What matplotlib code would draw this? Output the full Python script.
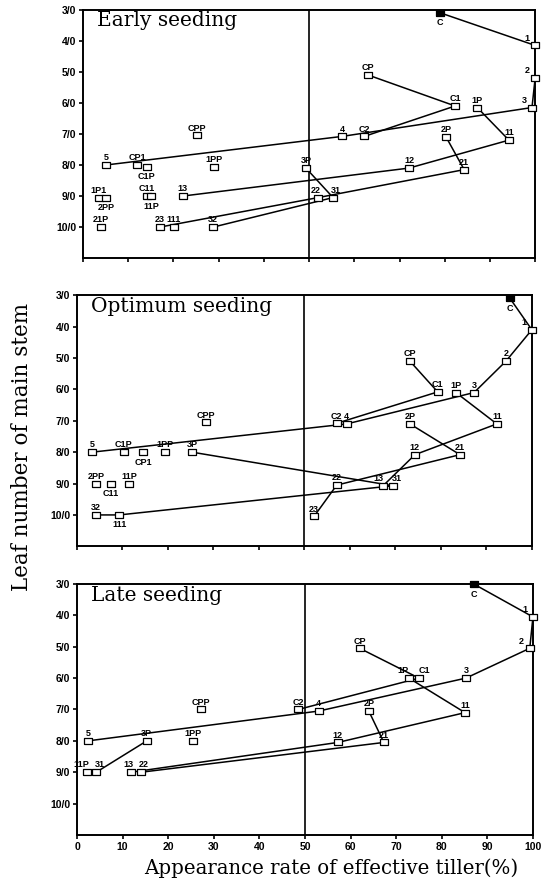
import matplotlib
matplotlib.use('Agg')
import matplotlib.pyplot as plt

# Early seeding: tiller labels, appearance rate (%), leaf number of main stem
early_labels = ['C', '1', '2', '3', 'CP', 'C1', '1P', '11', '2P', 'CPP', '4', 'C2',
                '5', 'CP1', 'C1P', '1PP', '3P', '12', '21', '1P1', '2PP', 'C11',
                '11P', '13', '22', '31', '21P', '23', '111', '32']
early_x = [79, 100, 100, 99.3, 63, 82.3, 87.2, 94.2, 80.3, 25.2, 57.3, 62.2,
           5.1, 12, 14.1, 29, 49.3, 72.1, 84.3, 3.5, 5.1, 14.1,
           15, 22.1, 52, 55.3, 4, 17, 20.1, 28.8]
early_y = [3.1, 4.15, 5.2, 6.15, 5.1, 6.1, 6.15, 7.2, 7.1, 7.05, 7.08, 7.08,
           8.0, 8.0, 8.05, 8.05, 8.1, 8.1, 8.15, 9.05, 9.05, 9.0,
           9.0, 9.0, 9.05, 9.05, 10.0, 10.0, 10.0, 10.0]
early_lines = [['C', '1', '2', '3', '4', '5'],
               ['CP', 'C1', 'C2'],
               ['1P', '11', '12', '13'],
               ['2P', '21', '22', '23'],
               ['3P', '31', '32']]

# Optimum seeding
opt_labels = ['C', '1', '2', 'CP', 'C1', '1P', '3', '11', '2P', 'C2', '4', 'CPP',
              '5', 'C1P', 'CP1', '1PP', '3P', '12', '21', '2PP', 'C11', '11P',
              '22', '13', '31', '32', '111', '23']
opt_x = [95.2, 100, 94.3, 73.2, 79.3, 83.3, 87.3, 92.3, 73.2, 57.1, 59.3, 28.4,
         3.3, 10.3, 14.5, 19.3, 25.3, 74.3, 84.2, 4.2, 7.5, 11.4,
         57.1, 67.3, 69.5, 4.2, 9.3, 52.1]
opt_y = [3.1, 4.1, 5.1, 5.1, 6.08, 6.1, 6.1, 7.1, 7.1, 7.08, 7.1, 7.05,
         8.0, 8.0, 8.0, 8.0, 8.0, 8.08, 8.08, 9.0, 9.0, 9.0,
         9.05, 9.07, 9.07, 10.0, 10.0, 10.05]
opt_lines = [['C', '1', '2', '3', '4', '5'],
             ['CP', 'C1', 'C2'],
             ['1P', '11', '12', '13'],
             ['2P', '21', '22', '23'],
             ['3P', '31', '111', '32']]

# Late seeding
late_labels = ['C', '1', '2', 'CP', '1P', 'C1', '3', '11', '2P', 'C2', '4', 'CPP',
               '5', '3P', '1PP', '12', '21', '11P', '31', '13', '22']
late_x = [87, 100, 99.3, 62, 72.8, 75, 85.3, 85.1, 64, 48.5, 53, 27.2,
          2.4, 15.3, 25.4, 57.2, 67.3, 2.2, 4.2, 11.8, 14]
late_y = [3.0, 4.05, 5.05, 5.05, 6.0, 6.0, 6.0, 7.1, 7.05, 7.0, 7.05, 7.0,
          8.0, 8.0, 8.0, 8.05, 8.05, 9.0, 9.0, 9.0, 9.0]
late_lines = [['C', '1', '2', '3', '4', '5'],
              ['CP', 'C1', 'C2'],
              ['1P', '11', '12', '13'],
              ['2P', '21', '22'],
              ['3P', '31']]

titles = ['Early seeding', 'Optimum seeding', 'Late seeding']
ytick_vals = [3, 4, 5, 6, 7, 8, 9, 10]
ytick_labels = ['3/0', '4/0', '5/0', '6/0', '7/0', '8/0', '9/0', '10/0']
xtick_vals = [0, 10, 20, 30, 40, 50, 60, 70, 80, 90, 100]

# label placement tweaks
below = [{'C', 'C1P', '2PP', '11P'}, {'C', 'CP1', 'C11', '111'}, {'C'}]
left = [{'1', '2', '3'}, {'1'}, {'1', '2'}]
nudge = [{'22': -2, '31': 2},
         {'13': -3, '31': 3},
         {'11P': -4, '31': 3, '1P': -4, 'C1': 4, '13': -2, '22': 2}]

rect = [(-1.6, -1), (1.6, -1), (1.6, 1), (-1.6, 1), (-1.6, -1)]

fig = plt.figure(figsize=(5.5, 8.84), dpi=100)
boxes = [[0.151, 0.708, 0.822, 0.281],
         [0.140, 0.382, 0.827, 0.284],
         [0.140, 0.0554, 0.829, 0.284]]

panels = [(early_labels, early_x, early_y, early_lines),
          (opt_labels, opt_x, opt_y, opt_lines),
          (late_labels, late_x, late_y, late_lines)]

for i, (labels, xs, ys, lines) in enumerate(panels):
    ax = fig.add_axes(boxes[i])
    pos = {lab: (x, y) for lab, x, y in zip(labels, xs, ys)}
    for seq in lines:
        ax.plot([pos[s][0] for s in seq], [pos[s][1] for s in seq],
                color='black', lw=1.1, zorder=2)
    for lab, x, y in zip(labels, xs, ys):
        fc = 'black' if lab == 'C' else 'white'
        ax.plot(x, y, marker=rect, ms=6, mfc=fc, mec='black', mew=0.9,
                ls='none', zorder=3, clip_on=False)
        dx = nudge[i].get(lab, 0)
        if lab in below[i]:
            ax.annotate(lab, (x, y), xytext=(dx, -4), textcoords='offset points',
                        ha='center', va='top', fontsize=6.5, fontweight='bold',
                        family='Liberation Sans')
        elif lab in left[i]:
            ax.annotate(lab, (x, y), xytext=(-4, 2), textcoords='offset points',
                        ha='right', va='bottom', fontsize=6.5, fontweight='bold',
                        family='Liberation Sans')
        else:
            ax.annotate(lab, (x, y), xytext=(dx, 2), textcoords='offset points',
                        ha='center', va='bottom', fontsize=6.5, fontweight='bold',
                        family='Liberation Sans')
    ax.axvline(50, color='black', lw=1.2, zorder=1)
    ax.set_xlim(0, 100)
    ax.set_ylim(11, 3)
    ax.set_yticks(ytick_vals)
    ax.set_yticklabels(ytick_labels, fontsize=7.5, fontweight='bold',
                       family='Liberation Sans')
    ax.set_xticks(xtick_vals)
    if i == 2:
        ax.set_xticklabels([str(v) for v in xtick_vals], fontsize=7.5,
                           fontweight='bold', family='Liberation Sans')
    else:
        ax.set_xticklabels([])
    ax.tick_params(direction='out', length=3, width=1.2, pad=2)
    for sp in ax.spines.values():
        sp.set_linewidth(1.4)
    ax.text(0.03, 0.955, titles[i], transform=ax.transAxes, ha='left', va='center',
            fontsize=14.5, family='DejaVu Serif')

fig.text(0.04, 0.494, 'Leaf number of main stem', rotation=90, ha='center',
         va='center', fontsize=15.5, family='DejaVu Serif')
fig.text(0.602, 0.018, 'Appearance rate of effective tiller(%)', ha='center',
         va='center', fontsize=14.2, family='DejaVu Serif')

fig.savefig('out.png', dpi=100)
